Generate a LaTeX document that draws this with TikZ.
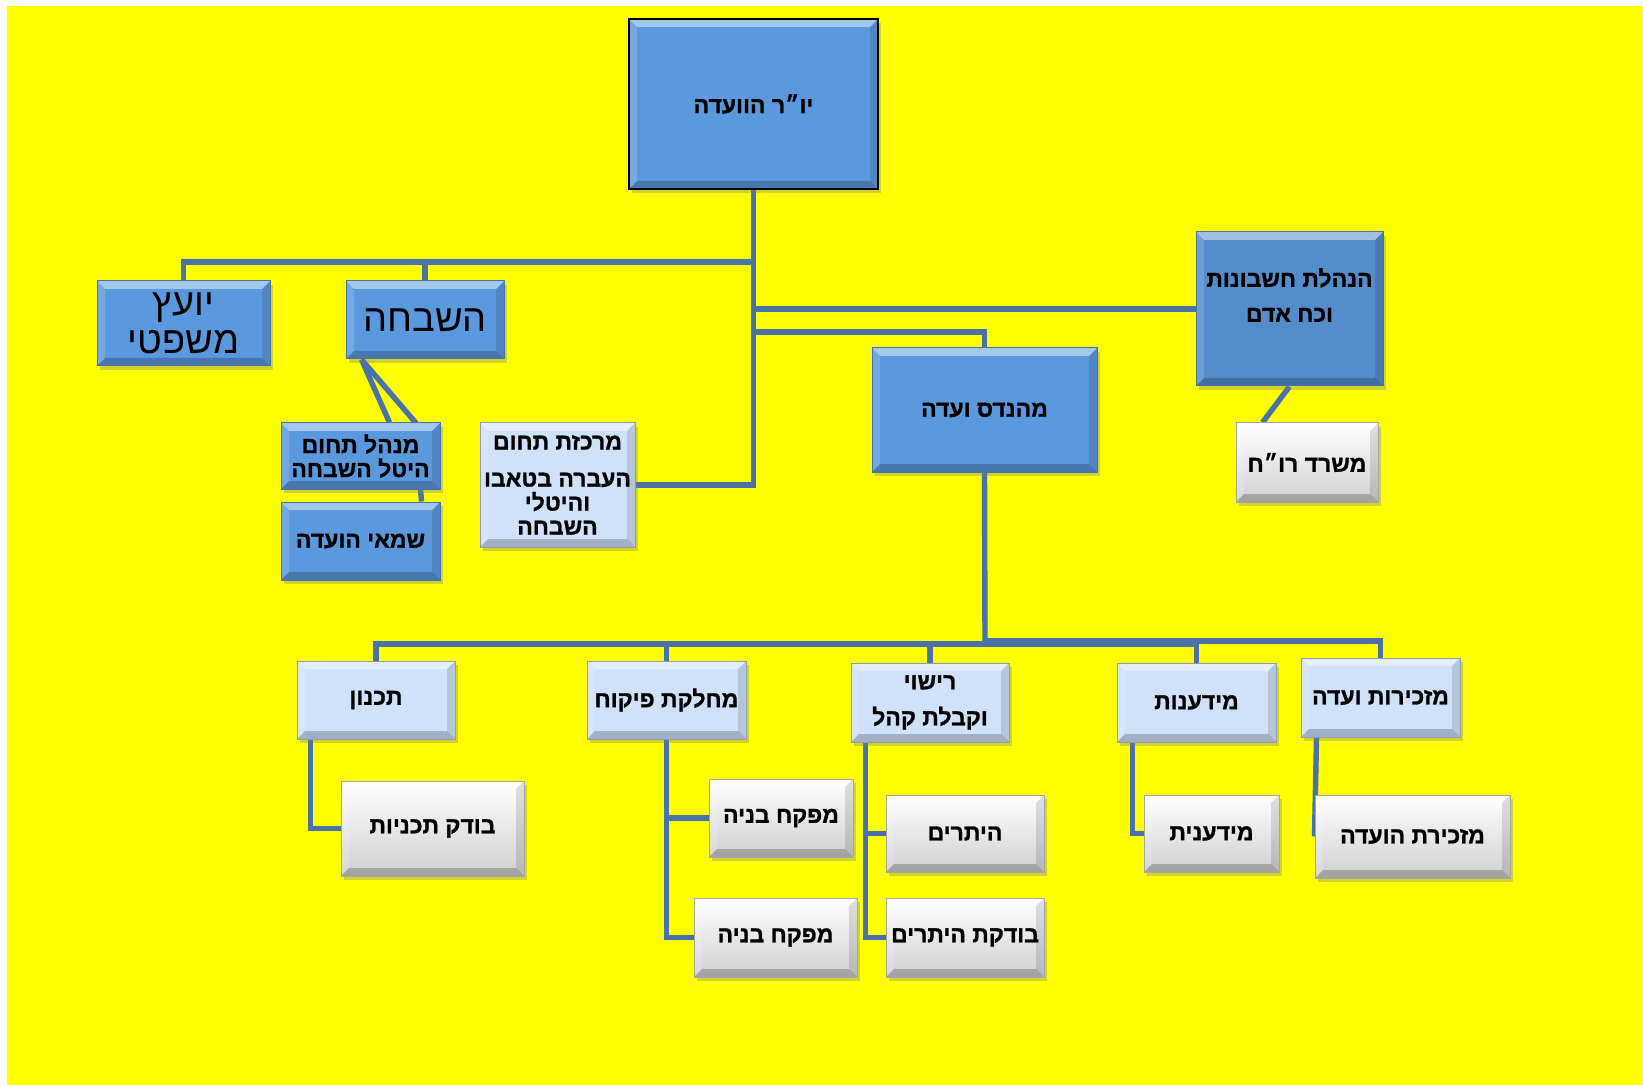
\documentclass[tikz,border=0pt]{standalone}
\usepackage{fontspec}
\newfontfamily\hebfont[Script=Hebrew, BoldFeatures={FakeBold=1.2}]{Liberation Sans}
\TeXXeTstate=1
\usetikzlibrary{shadows,calc}
\newcommand{\heb}[1]{\beginR #1\endR}
\definecolor{bgyellow}{RGB}{255,255,0}
\definecolor{linec}{RGB}{72,114,168}
\definecolor{bluebox}{RGB}{91,153,222}
\definecolor{bluebox2}{RGB}{84,140,204}
\definecolor{lightbox}{RGB}{207,226,250}
\definecolor{graybot}{RGB}{208,208,208}
\pgfdeclarelayer{back}
\pgfdeclarelayer{lines}
\pgfsetlayers{back,lines,main}
\tikzset{
  bevel/.style={path picture={
    \coordinate (pnw) at (path picture bounding box.north west);
    \coordinate (pne) at (path picture bounding box.north east);
    \coordinate (psw) at (path picture bounding box.south west);
    \coordinate (pse) at (path picture bounding box.south east);
    \fill[white,opacity=.45] (pnw) -- (pne) -- ([shift={(-4pt,-4pt)}]pne) -- ([shift={(4pt,-4pt)}]pnw) -- cycle;
    \fill[white,opacity=.15] (pnw) -- ([shift={(4pt,-4pt)}]pnw) -- ([shift={(4pt,4pt)}]psw) -- (psw) -- cycle;
    \fill[black,opacity=.12] (pne) -- ([shift={(-4pt,-4pt)}]pne) -- ([shift={(-4pt,4pt)}]pse) -- (pse) -- cycle;
    \fill[black,opacity=.22] (psw) -- ([shift={(4pt,4pt)}]psw) -- ([shift={(-4pt,4pt)}]pse) -- (pse) -- cycle;
  }},
  sz/.style 2 args={minimum width=#1*0.5pt, minimum height=#2*0.5pt},
  box/.style={rectangle, inner sep=0pt, align=center, text=black,
    drop shadow={shadow xshift=1.5pt,shadow yshift=-2pt,opacity=.35},
    bevel, font=\hebfont\bfseries\fontsize{11.5}{12}\selectfont},
  bluebx/.style={box, fill=bluebox, draw=bluebox!75!black, line width=.5pt},
  lightbx/.style={box, fill=lightbox, draw=lightbox!70!black, line width=.5pt},
  whitebx/.style={box, top color=white, bottom color=graybot, draw=gray!70, line width=.5pt},
  bigtxt/.style={font=\hebfont\fontsize{19}{19}\selectfont},
  txt/.style={inner sep=0pt, align=center, text=black, font=\hebfont\bfseries\fontsize{11.5}{17.5}\selectfont},
  conn/.style={draw=linec, line width=2.7pt}
}
\begin{document}
\begin{tikzpicture}[x=0.5pt,y=-0.5pt]
\useasboundingbox (0,0) rectangle (1643,1085);
\begin{pgfonlayer}{back}
  \fill[white] (0,0) rectangle (1643,1085);
  \fill[bgyellow] (7,6) rectangle (1643,1085);
\end{pgfonlayer}

% top levels
\node[bluebx, fill=bluebox, draw=black, line width=1.3pt, sz={249}{170}] (top) at (753.5,104) {\heb{יו״ר הוועדה}};
\node[bluebx, sz={173}{85}, bigtxt] (yoetz) at (183.5,323.5) {\heb{יועץ}\\\heb{משפטי}};
\node[bluebx, sz={158}{78}, bigtxt] (hash) at (425,320) {\heb{השבחה}};
\node[bluebx, fill=bluebox2, sz={187}{154}] (hnt) at (1289.5,309) {};
\node[txt] (hnttxt) at (1289.5,295) {\heb{הנהלת חשבונות}\\\heb{וכח אדם}};
\node[bluebx, sz={225}{124}] (mhnds) at (984.5,410) {\heb{מהנדס ועדה}};
\node[whitebx, sz={142}{79}] (msrd) at (1307,462.5) {\heb{משרד רו״ח}};
\node[lightbx, sz={155}{124}] (mrk) at (557.5,485) {\heb{מרכזת תחום}\\[6.5pt]\heb{העברה בטאבו}\\\heb{והיטלי}\\\heb{השבחה}};
\node[bluebx, sz={159}{66}] (mnhl) at (360.5,456) {\heb{מנהל תחום}\\\heb{היטל השבחה}};
\node[bluebx, sz={159}{78}] (shmai) at (360.5,541) {\heb{שמאי הועדה}};

% departments
\node[lightbx, sz={158}{78}] (tknn) at (376,700) {\heb{תכנון}};
\node[lightbx, sz={159}{78}] (piku) at (666.5,700) {\heb{מחלקת פיקוח}};
\node[lightbx, sz={158}{79}, font=\hebfont\bfseries\fontsize{11.5}{18}\selectfont] (rishui) at (930,702.5) {\heb{רישוי}\\\heb{וקבלת קהל}};
\node[lightbx, sz={159}{79}] (mid) at (1196.5,702.5) {\heb{מידענות}};
\node[lightbx, sz={159}{79}] (mzk) at (1380.5,697.5) {\heb{מזכירות ועדה}};

% staff
\node[whitebx, sz={183}{95}] (bdk) at (432.5,828.5) {\heb{בודק תכניות}};
\node[whitebx, sz={144}{78}] (mfk1) at (781,818) {\heb{מפקח בניה}};
\node[whitebx, sz={163}{79}] (mfk2) at (775.5,937.5) {\heb{מפקח בניה}};
\node[whitebx, sz={158}{77}] (hitr) at (965,833.5) {\heb{היתרים}};
\node[whitebx, sz={158}{79}] (btk) at (965,937.5) {\heb{בודקת היתרים}};
\node[whitebx, sz={135}{77}] (midt) at (1211.5,833.5) {\heb{מידענית}};
\node[whitebx, sz={195}{83}] (mzkt) at (1412.5,836.5) {\heb{מזכירת הועדה}};

\coordinate (b1) at (752,262);
\coordinate (b2) at (752,332);
\coordinate (bus) at (985,641);
\coordinate (bus2) at (985,644);
\coordinate (tx) at ($(tknn.south west)+(14,0)$);
\coordinate (rx) at ($(rishui.south west)+(15,0)$);
\coordinate (mx) at ($(mid.south west)+(16,0)$);
\coordinate (zx) at ($(mzk.south west)+(16,0)$);

\begin{pgfonlayer}{lines}
  \draw[conn] (top.south) -- (top.south |- mrk.east) -- (mrk.east);
  \draw[conn] (b1) -| (yoetz.north);
  \draw[conn] (b1) -| (hash.north);
  \draw[conn] (hnt.west) -- (hnt.west -| top.south);
  \draw[conn] (b2) -| (mhnds.north);
  \draw[conn] (hnt.south) -- ($(msrd.north west)+(27,0)$);
  \draw[conn] ($(hash.south west)+(16,0)$) -- ($(mnhl.north west)+(109,0)$);
  \draw[conn] ($(hash.south west)+(16,0)$) -- ($(mnhl.north west)+(135,0)$) -- ($(shmai.north west)+(141,0)$);
  % bus
  \draw[conn] (mhnds.south) -- (bus2);
  \draw[conn] (tknn.north) |- (bus2) -| (mid.north);
  \draw[conn] (bus) -| (mzk.north);
  \draw[conn] (piku.north) -- (piku.north |- bus2);
  \draw[conn] (rishui.north) -- (rishui.north |- bus2);
  % sub connectors
  \draw[conn] (tx) |- (bdk.west);
  \draw[conn] (piku.south) |- (mfk2.west);
  \draw[conn] (piku.south |- mfk1.west) -- (mfk1.west);
  \draw[conn] (rx) |- (btk.west);
  \draw[conn] (rx |- hitr.west) -- (hitr.west);
  \draw[conn] (mx) |- (midt.west);
  \draw[conn] (zx) -- (mzkt.west);
\end{pgfonlayer}
\end{tikzpicture}
\end{document}
